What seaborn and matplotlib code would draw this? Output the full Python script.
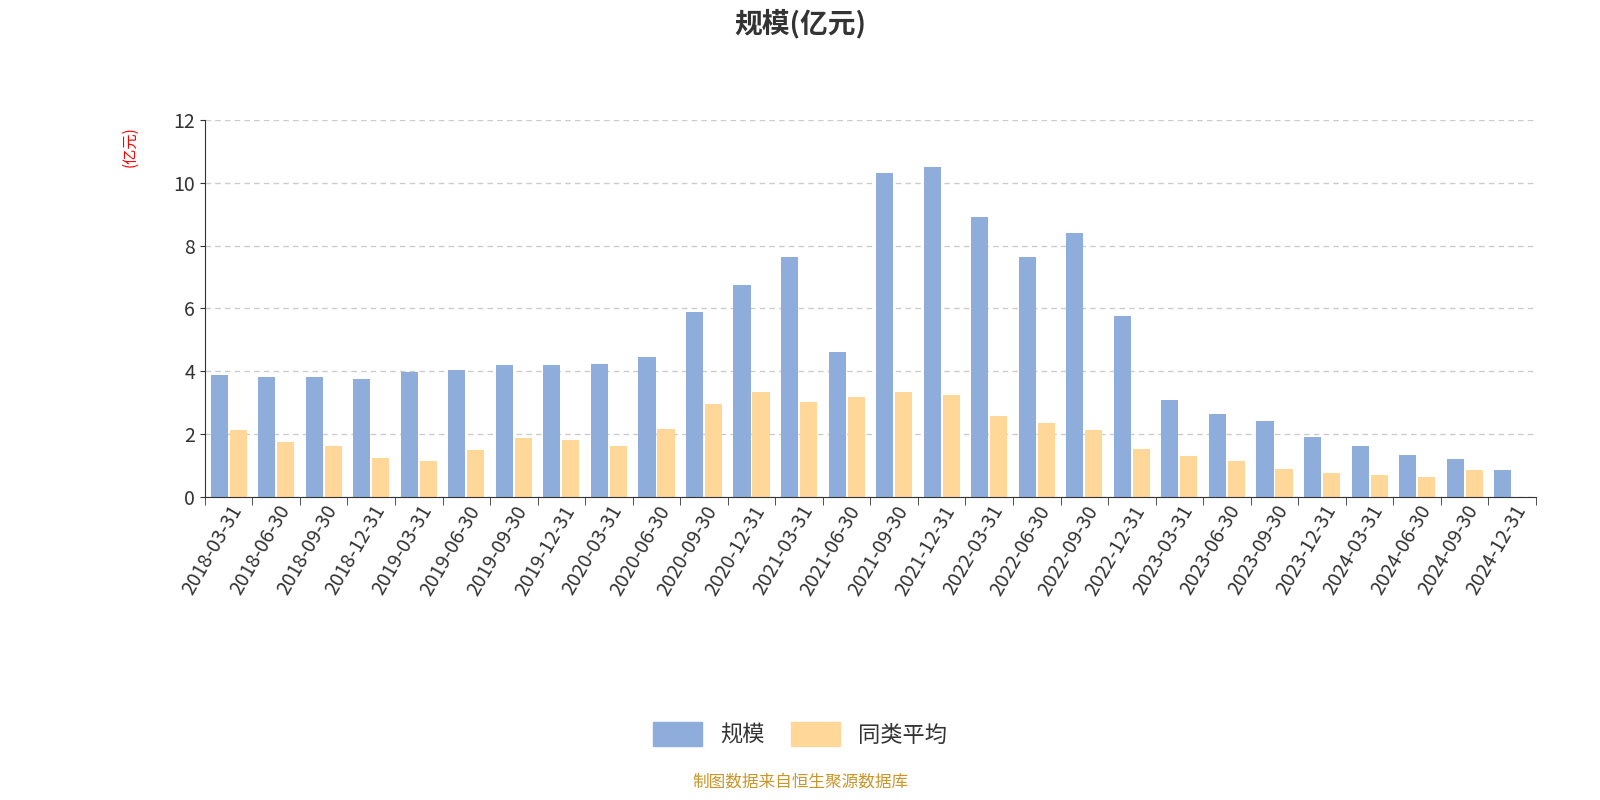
import numpy as np
import pandas as pd
import seaborn as sns
import matplotlib.pyplot as plt
from matplotlib.patches import FancyBboxPatch

plt.rcParams['font.family'] = 'sans-serif'
plt.rcParams['font.sans-serif'] = ['Noto Sans CJK SC', 'Noto Sans CJK JP', 'Noto Sans CJK TC',
                                   'Noto Sans CJK KR', 'DejaVu Sans']

dates = ['2018-03-31', '2018-06-30', '2018-09-30', '2018-12-31',
         '2019-03-31', '2019-06-30', '2019-09-30', '2019-12-31',
         '2020-03-31', '2020-06-30', '2020-09-30', '2020-12-31',
         '2021-03-31', '2021-06-30', '2021-09-30', '2021-12-31',
         '2022-03-31', '2022-06-30', '2022-09-30', '2022-12-31',
         '2023-03-31', '2023-06-30', '2023-09-30', '2023-12-31',
         '2024-03-31', '2024-06-30', '2024-09-30', '2024-12-31']
guimo = [3.87, 3.83, 3.80, 3.76, 3.98, 4.05, 4.20, 4.20, 4.23, 4.44, 5.88, 6.75,
         7.65, 4.62, 10.30, 10.50, 8.90, 7.63, 8.40, 5.75, 3.07, 2.63, 2.40, 1.91,
         1.62, 1.32, 1.20, 0.85]
tonglei = [2.12, 1.74, 1.62, 1.22, 1.13, 1.50, 1.88, 1.82, 1.62, 2.16, 2.95, 3.35,
           3.03, 3.18, 3.33, 3.25, 2.57, 2.34, 2.14, 1.52, 1.30, 1.15, 0.90, 0.75,
           0.70, 0.63, 0.85, np.nan]

df = pd.DataFrame({'date': dates * 2,
                   'value': guimo + tonglei,
                   'series': ['规模'] * len(dates) + ['同类平均'] * len(dates)})

fig = plt.figure(figsize=(16, 8), dpi=100)
ax = fig.add_axes([0.128, 0.379, 0.832, 0.471])
sns.barplot(data=df, x='date', y='value', hue='series',
            palette={'规模': '#8EADDB', '同类平均': '#FFD899'}, saturation=1,
            width=0.8, gap=0.1, ax=ax, legend=False)

ax.set_ylim(0, 12)
ax.set_yticks(range(0, 13, 2))
ax.set_xlim(-0.5, len(dates) - 0.5)
ax.grid(axis='y', linestyle=(0, (4, 3)), color='#cccccc', linewidth=1)
ax.set_axisbelow(True)
for s in ['top', 'right']:
    ax.spines[s].set_visible(False)
ax.spines['left'].set_color('#333333')
ax.spines['bottom'].set_color('#333333')
ax.set_xlabel('')
ax.set_ylabel('(亿元)', color='red', fontsize=11)
ax.yaxis.set_label_coords(-0.05, 0.93)
ax.set_xticks(np.arange(len(dates) + 1) - 0.5, minor=True)
ax.tick_params(axis='x', which='major', length=0, labelsize=14, colors='#333333')
ax.tick_params(axis='x', which='minor', length=6, color='#333333')
ax.tick_params(axis='y', labelsize=14, colors='#333333')
plt.setp(ax.get_xticklabels(), rotation=60, ha='right', rotation_mode='anchor')

fig.text(0.5, 0.97, '规模(亿元)', ha='center', va='center', fontsize=20,
         fontweight='bold', color='#333333')

handles = [FancyBboxPatch((0, 0), 1, 1, boxstyle='round,pad=0.1', color=c)
           for c in ['#8EADDB', '#FFD899']]
fig.legend(handles, ['规模', '同类平均'], loc='center', bbox_to_anchor=(0.5, 0.082),
           ncol=2, frameon=False, fontsize=16, handlelength=2.2, handleheight=1.3,
           columnspacing=1.2, labelcolor='#333333')
fig.text(0.5, 0.012, '制图数据来自恒生聚源数据库', ha='center', va='bottom',
         fontsize=12, color='#C8962A')

fig.savefig('out.png')
